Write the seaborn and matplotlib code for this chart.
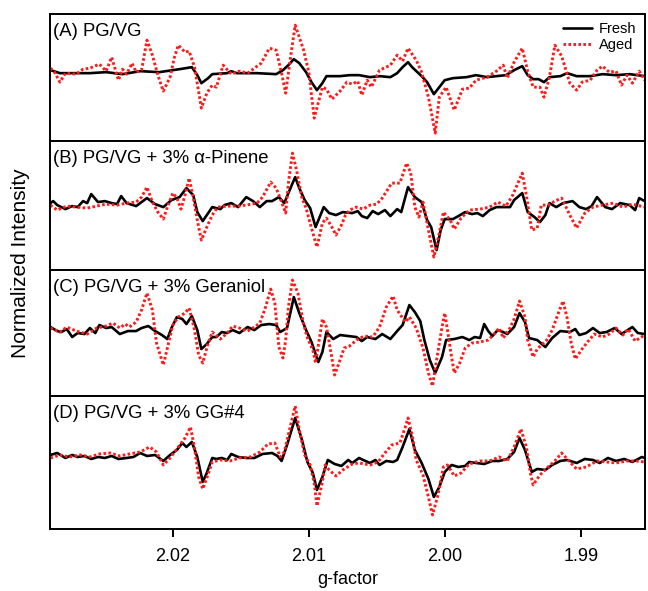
import numpy as np
import pandas as pd
import matplotlib
matplotlib.use("Agg")
import matplotlib.pyplot as plt
import seaborn as sns

# EPR spectra: (g-factor, intensity in arbitrary units)
a_fresh = [(2.0290, 2), (2.0283, -1), (2.0274, -1), (2.0261, -1), (2.0249, 0), (2.0237, -2), (2.0224, 1),
           (2.0210, 0), (2.0195, 3), (2.0186, 5), (2.0182, -3), (2.0179, -11), (2.0174, -6), (2.0171, -2),
           (2.0160, -1), (2.0157, 1), (2.0153, -1), (2.0138, -1), (2.0124, -2), (2.0119, 2), (2.0115, 7),
           (2.0111, 13), (2.0107, 9), (2.0102, 0), (2.0098, -10), (2.0094, -18), (2.0090, -11), (2.0087, -4),
           (2.0077, -4), (2.0070, -3), (2.0063, -3), (2.0055, -5), (2.0048, -4), (2.0040, -5), (2.0035, -1),
           (2.0031, 5), (2.0027, 10), (2.0024, 5), (2.0017, -4), (2.0013, -10), (2.0008, -22), (2.0004, -15),
           (2.0000, -8), (1.9994, -6), (1.9984, -5), (1.9977, -3), (1.9969, -5), (1.9962, -4), (1.9955, -3),
           (1.9949, 2), (1.9943, 6), (1.9939, -3), (1.9935, -7), (1.9931, -7), (1.9927, -10), (1.9923, -5),
           (1.9915, -4), (1.9910, -1), (1.9903, -4), (1.9893, -4), (1.9884, -2), (1.9874, -3), (1.9864, -2),
           (1.9853, -4)]
a_aged = [(2.0290, 4), (2.0287, 0), (2.0283, -10), (2.0279, -1), (2.0271, -2), (2.0266, 3), (2.0261, 4),
          (2.0254, 8), (2.0249, 1), (2.0245, 15), (2.0240, -8), (2.0237, 3), (2.0234, -2), (2.0230, 9),
          (2.0227, 0), (2.0223, 2), (2.0219, 32), (2.0215, 17), (2.0211, -3), (2.0207, -19), (2.0202, -5),
          (2.0199, 14), (2.0196, 27), (2.0191, 20), (2.0188, 21), (2.0184, 5), (2.0179, -36), (2.0175, -21),
          (2.0171, -13), (2.0168, -15), (2.0163, 7), (2.0157, -2), (2.0151, 1), (2.0145, -1), (2.0140, 4),
          (2.0135, 9), (2.0129, 24), (2.0124, 22), (2.0120, -1), (2.0117, -21), (2.0113, 19), (2.0110, 47),
          (2.0104, 23), (2.0100, 0), (2.0096, -46), (2.0090, -15), (2.0087, -17), (2.0083, -27), (2.0077, -19),
          (2.0072, -10), (2.0068, -12), (2.0064, -9), (2.0061, -23), (2.0057, -8), (2.0054, -15), (2.0048, 2),
          (2.0040, 7), (2.0035, 17), (2.0031, 11), (2.0027, 24), (2.0021, 12), (2.0017, 0), (2.0012, -25),
          (2.0007, -61), (2.0004, -25), (1.9999, -15), (1.9993, -38), (1.9987, -17), (1.9982, -16),
          (1.9977, -8), (1.9969, -5), (1.9962, 1), (1.9957, 7), (1.9954, -6), (1.9949, 10), (1.9943, 24),
          (1.9939, 1), (1.9935, -15), (1.9930, -15), (1.9927, -25), (1.9923, -5), (1.9919, 27), (1.9914, 16),
          (1.9908, -11), (1.9903, -18), (1.9899, -10), (1.9893, -8), (1.9888, 2), (1.9884, 6), (1.9879, 0),
          (1.9874, 1), (1.9870, -13), (1.9866, -3), (1.9862, -11), (1.9857, 1), (1.9853, -8)]

b_fresh = [(2.0290, 0), (2.0288, 2), (2.0285, -2), (2.0279, -6), (2.0274, -3), (2.0270, -4), (2.0266, 2),
           (2.0263, 0), (2.0260, 9), (2.0255, 1), (2.0250, 2), (2.0245, 0), (2.0241, -1), (2.0238, 7),
           (2.0234, 0), (2.0227, -3), (2.0219, 5), (2.0213, -1), (2.0207, -4), (2.0201, 3), (2.0195, 6),
           (2.0190, 15), (2.0185, 8), (2.0182, -9), (2.0178, -18), (2.0174, -10), (2.0171, -4), (2.0165, -6),
           (2.0162, -2), (2.0157, 0), (2.0152, -4), (2.0146, 6), (2.0141, 2), (2.0136, -4), (2.0131, 2),
           (2.0127, 2), (2.0122, 6), (2.0118, 0), (2.0115, 10), (2.0110, 26), (2.0107, 15), (2.0103, 3),
           (2.0099, -5), (2.0095, -24), (2.0092, -14), (2.0089, -4), (2.0085, -10), (2.0080, -12), (2.0075, -9),
           (2.0068, -10), (2.0064, -8), (2.0061, -13), (2.0057, -15), (2.0053, -8), (2.0049, -11), (2.0044, -7),
           (2.0040, -13), (2.0035, -6), (2.0032, -9), (2.0027, 16), (2.0022, 6), (2.0017, 1), (2.0013, -17),
           (2.0010, -24), (2.0006, -47), (2.0003, -27), (2.0000, -16), (1.9994, -16), (1.9990, -13),
           (1.9985, -9), (1.9980, -11), (1.9976, -10), (1.9972, -13), (1.9967, -7), (1.9962, -4), (1.9952, -4),
           (1.9949, 3), (1.9943, 10), (1.9939, -9), (1.9934, -14), (1.9930, -19), (1.9926, -12), (1.9923, 0),
           (1.9918, -4), (1.9913, 0), (1.9906, 2), (1.9901, -4), (1.9896, -6), (1.9892, -3), (1.9888, 6),
           (1.9882, -4), (1.9877, -6), (1.9871, 0), (1.9864, -2), (1.9860, -7), (1.9857, 5), (1.9853, 2)]
b_aged = [(2.0290, -2), (2.0285, -7), (2.0278, -3), (2.0271, -4), (2.0263, -5), (2.0256, -3), (2.0249, -1),
          (2.0241, -2), (2.0234, 0), (2.0227, 1), (2.0223, 6), (2.0219, 16), (2.0215, 1), (2.0211, -9),
          (2.0207, -16), (2.0204, -4), (2.0200, 10), (2.0197, 5), (2.0194, -6), (2.0191, 8), (2.0188, 25),
          (2.0185, 6), (2.0182, -17), (2.0179, -37), (2.0175, -24), (2.0171, -12), (2.0167, -4), (2.0160, -3),
          (2.0153, -3), (2.0146, -2), (2.0138, 0), (2.0134, 6), (2.0128, 21), (2.0124, 15), (2.0120, 1),
          (2.0117, -10), (2.0115, 20), (2.0112, 50), (2.0109, 33), (2.0105, 5), (2.0102, -5), (2.0098, -25),
          (2.0094, -44), (2.0090, -20), (2.0087, -15), (2.0083, -24), (2.0080, -32), (2.0076, -22),
          (2.0073, -12), (2.0070, -7), (2.0065, -4), (2.0060, -6), (2.0055, -2), (2.0050, -1), (2.0046, 5),
          (2.0039, 20), (2.0033, 20), (2.0028, 40), (2.0025, 30), (2.0022, -4), (2.0019, -14), (2.0016, 1),
          (2.0012, -27), (2.0008, -54), (2.0004, -30), (2.0001, -9), (1.9996, -17), (1.9993, -26),
          (1.9988, -15), (1.9982, -7), (1.9974, -6), (1.9967, -4), (1.9961, 1), (1.9955, -3), (1.9950, 8),
          (1.9943, 30), (1.9940, 8), (1.9936, -27), (1.9932, -25), (1.9929, -2), (1.9924, -2), (1.9919, 2),
          (1.9914, 5), (1.9908, -12), (1.9903, -25), (1.9897, -10), (1.9891, -4), (1.9884, -2), (1.9876, 0),
          (1.9869, -4), (1.9862, -1), (1.9853, -4)]

c_fresh = [(2.0290, 1), (2.0285, -3), (2.0282, -4), (2.0278, -1), (2.0274, -9), (2.0270, -5), (2.0265, -6),
           (2.0261, 0), (2.0257, -5), (2.0254, 3), (2.0249, 0), (2.0245, 1), (2.0239, -6), (2.0233, -3),
           (2.0227, -3), (2.0223, 0), (2.0218, 2), (2.0213, -3), (2.0208, -7), (2.0204, -11), (2.0201, 0),
           (2.0197, 11), (2.0193, 9), (2.0190, 4), (2.0186, 12), (2.0182, -2), (2.0179, -21), (2.0175, -16),
           (2.0171, -9), (2.0168, -9), (2.0164, -4), (2.0160, -5), (2.0156, -2), (2.0151, -5), (2.0145, 1),
           (2.0140, -2), (2.0135, 3), (2.0129, 4), (2.0124, 3), (2.0121, -4), (2.0116, 0), (2.0111, 31),
           (2.0107, 15), (2.0102, -2), (2.0098, -14), (2.0093, -34), (2.0090, -24), (2.0087, -4), (2.0082, -11),
           (2.0077, -7), (2.0071, -8), (2.0065, -9), (2.0061, -13), (2.0057, -9), (2.0051, -11), (2.0046, -6),
           (2.0040, -11), (2.0035, -3), (2.0031, 3), (2.0026, 23), (2.0022, 16), (2.0018, 7), (2.0015, -12),
           (2.0011, -32), (2.0007, -45), (2.0002, -29), (1.9999, -12), (1.9993, -11), (1.9987, -9),
           (1.9982, -12), (1.9978, -9), (1.9974, -10), (1.9971, 4), (1.9968, -3), (1.9965, -8), (1.9961, -2),
           (1.9957, -4), (1.9954, -6), (1.9949, 1), (1.9945, 15), (1.9941, 6), (1.9938, -10), (1.9932, -12),
           (1.9926, -19), (1.9921, -10), (1.9915, -3), (1.9908, -4), (1.9904, -1), (1.9901, -7), (1.9896, -5),
           (1.9891, 0), (1.9886, -5), (1.9881, -4), (1.9875, 0), (1.9870, -6), (1.9862, 1), (1.9858, -5),
           (1.9853, -6)]
c_aged = [(2.0290, 0), (2.0283, -4), (2.0278, 1), (2.0271, -3), (2.0263, -6), (2.0256, 0), (2.0249, 2),
          (2.0244, 5), (2.0239, 0), (2.0235, 4), (2.0232, 1), (2.0227, 6), (2.0223, 18), (2.0219, 35),
          (2.0215, 18), (2.0212, -15), (2.0207, -37), (2.0204, -20), (2.0200, 3), (2.0196, 11), (2.0191, 15),
          (2.0188, 20), (2.0184, -2), (2.0181, -27), (2.0178, -35), (2.0174, -15), (2.0171, -4), (2.0165, -11),
          (2.0160, -5), (2.0156, 2), (2.0151, 0), (2.0145, -3), (2.0140, 1), (2.0136, 5), (2.0132, 20),
          (2.0128, 39), (2.0125, 25), (2.0122, -19), (2.0119, -30), (2.0117, -12), (2.0115, 21), (2.0112, 48),
          (2.0108, 35), (2.0104, 5), (2.0101, -10), (2.0097, -22), (2.0095, -35), (2.0092, -9), (2.0090, 9),
          (2.0087, 1), (2.0083, -30), (2.0081, -47), (2.0077, -32), (2.0074, -20), (2.0070, -18), (2.0064, -11),
          (2.0059, -8), (2.0053, -9), (2.0048, 1), (2.0043, 21), (2.0038, 32), (2.0035, 18), (2.0029, 6),
          (2.0026, 11), (2.0021, 0), (2.0016, -20), (2.0012, -45), (2.0009, -58), (2.0006, -32), (2.0002, 1),
          (2.0000, 15), (1.9998, -2), (1.9995, -29), (1.9993, -45), (1.9989, -35), (1.9985, -20), (1.9980, -15),
          (1.9974, -14), (1.9968, -12), (1.9963, -5), (1.9960, 0), (1.9957, -10), (1.9952, 0), (1.9949, 9),
          (1.9945, 27), (1.9941, 11), (1.9939, -12), (1.9935, -29), (1.9932, -21), (1.9925, -12), (1.9921, -2),
          (1.9917, 13), (1.9913, 27), (1.9910, 10), (1.9907, -15), (1.9904, -31), (1.9899, -21), (1.9895, -14),
          (1.9890, -6), (1.9884, -9), (1.9879, -6), (1.9874, 0), (1.9869, -7), (1.9865, -1), (1.9860, -13),
          (1.9853, -7)]

d_fresh = [(2.0290, 0), (2.0285, 2), (2.0279, -3), (2.0274, 0), (2.0270, -2), (2.0265, -1), (2.0260, -4),
           (2.0255, -2), (2.0250, -3), (2.0245, -1), (2.0240, -4), (2.0234, -3), (2.0229, -2), (2.0224, 2),
           (2.0219, -1), (2.0213, 0), (2.0207, -6), (2.0202, 0), (2.0197, 5), (2.0193, 12), (2.0190, 8),
           (2.0186, 13), (2.0182, -2), (2.0178, -27), (2.0175, -18), (2.0171, -3), (2.0168, -4), (2.0164, -3),
           (2.0160, -5), (2.0157, 1), (2.0152, -2), (2.0146, -3), (2.0140, -3), (2.0134, 1), (2.0127, 2),
           (2.0123, -1), (2.0120, -6), (2.0116, 10), (2.0110, 37), (2.0105, 15), (2.0101, -7), (2.0097, -18),
           (2.0094, -35), (2.0090, -22), (2.0086, -5), (2.0081, -9), (2.0076, -11), (2.0071, -5), (2.0068, -8),
           (2.0063, -3), (2.0060, -5), (2.0055, -8), (2.0051, -5), (2.0048, -10), (2.0043, -6), (2.0038, -7),
           (2.0035, -5), (2.0031, 8), (2.0026, 26), (2.0022, 5), (2.0017, -8), (2.0012, -24), (2.0008, -42),
           (2.0004, -32), (2.0000, -17), (1.9995, -10), (1.9990, -12), (1.9985, -11), (1.9982, -7), (1.9977, -8),
           (1.9971, -9), (1.9965, -6), (1.9960, -6), (1.9954, -4), (1.9949, 3), (1.9945, 17), (1.9941, 5),
           (1.9936, -17), (1.9932, -14), (1.9926, -15), (1.9921, -10), (1.9915, -6), (1.9910, -5), (1.9903, -8),
           (1.9897, -4), (1.9891, -5), (1.9886, -8), (1.9880, -3), (1.9874, -6), (1.9868, -4), (1.9862, -7),
           (1.9855, -2), (1.9853, -3)]
d_aged = [(2.0290, -3), (2.0283, 0), (2.0276, -2), (2.0268, 0), (2.0261, -2), (2.0254, 1), (2.0246, 2),
          (2.0239, -1), (2.0232, 1), (2.0224, 3), (2.0217, 8), (2.0212, 3), (2.0207, -10), (2.0202, -3),
          (2.0196, 8), (2.0191, 17), (2.0187, 28), (2.0184, 7), (2.0181, -22), (2.0178, -34), (2.0175, -23),
          (2.0171, -7), (2.0165, -5), (2.0158, -6), (2.0151, -3), (2.0143, -2), (2.0136, 3), (2.0130, 11),
          (2.0125, 12), (2.0121, -2), (2.0118, 3), (2.0113, 32), (2.0110, 49), (2.0107, 25), (2.0103, 0),
          (2.0099, -10), (2.0096, -28), (2.0094, -51), (2.0090, -27), (2.0088, -10), (2.0085, -15),
          (2.0080, -21), (2.0075, -15), (2.0068, -9), (2.0063, -8), (2.0055, -10), (2.0049, -7), (2.0044, 2),
          (2.0039, 10), (2.0033, 12), (2.0029, 28), (2.0027, 37), (2.0024, 20), (2.0021, -5), (2.0016, -20),
          (2.0012, -42), (2.0009, -60), (2.0005, -40), (2.0001, -12), (1.9998, -10), (1.9993, -21),
          (1.9988, -18), (1.9982, -9), (1.9974, -6), (1.9967, -6), (1.9960, -2), (1.9954, -6), (1.9949, 8),
          (1.9944, 26), (1.9940, 8), (1.9937, -18), (1.9935, -30), (1.9930, -20), (1.9924, -12), (1.9919, -6),
          (1.9914, 2), (1.9908, -7), (1.9903, -14), (1.9896, -12), (1.9888, -6), (1.9881, -7), (1.9874, -8),
          (1.9866, -6), (1.9859, -6), (1.9853, -7)]

panel_labels = ["(A) PG/VG", "(B) PG/VG + 3% \u03b1-Pinene", "(C) PG/VG + 3% Geraniol", "(D) PG/VG + 3% GG#4"]
series = [(a_fresh, a_aged), (b_fresh, b_aged), (c_fresh, c_aged), (d_fresh, d_aged)]
ylims = [(-69, 58), (-67, 62), (-68, 58), (-74, 59)]
xticks = [2.02, 2.01, 2.00, 1.99]

sns.set_theme(style="white")
plt.rcParams["font.family"] = ["Liberation Sans", "DejaVu Sans"]
plt.rcParams["text.color"] = "black"
plt.rcParams["axes.labelcolor"] = "black"
plt.rcParams["xtick.color"] = "black"

fig, axes = plt.subplots(4, 1, figsize=(6.48, 5.91), dpi=100, sharex=True,
                         gridspec_kw={"height_ratios": [127, 129, 126, 133], "hspace": 0})
fig.subplots_adjust(left=0.077, right=0.995, top=0.976, bottom=0.105)

for ax, label, (fresh, aged), yl in zip(axes, panel_labels, series, ylims):
    df_f = pd.DataFrame(fresh, columns=["g", "intensity"])
    df_a = pd.DataFrame(aged, columns=["g", "intensity"])
    sns.lineplot(data=df_f, x="g", y="intensity", ax=ax, color="black", lw=1.9,
                 sort=False, estimator=None, label="Fresh")
    sns.lineplot(data=df_a, x="g", y="intensity", ax=ax, color="#ff1a1a", lw=2.1,
                 linestyle=(0, (0.9, 0.8)), sort=False, estimator=None, label="Aged")
    ax.set_ylim(*yl)
    ax.set_yticks([])
    ax.set_ylabel("")
    ax.text(0.006, 0.93, label, transform=ax.transAxes, ha="left", va="top", fontsize=13.3)
    for s in ax.spines.values():
        s.set_color("black")
        s.set_linewidth(1.4)
    if ax is not axes[0]:
        ax.get_legend().remove()

axes[0].legend(loc="upper right", frameon=False, fontsize=10.5, handlelength=2.0,
               borderaxespad=0.15, labelspacing=0.1, handletextpad=0.5)
axes[-1].set_xlim(2.02904, 1.98529)
axes[-1].set_xticks(xticks)
axes[-1].set_xticklabels([f"{t:.2f}" for t in xticks])
axes[-1].tick_params(axis="x", direction="out", length=6, width=1.4, colors="black",
                     labelsize=13, pad=8, bottom=True)
axes[-1].set_xlabel("g-factor", fontsize=13, labelpad=4)
fig.text(0.031, 0.555, "Normalized Intensity", rotation=90, ha="center", va="center", fontsize=15)

fig.savefig("out.png", dpi=100)
